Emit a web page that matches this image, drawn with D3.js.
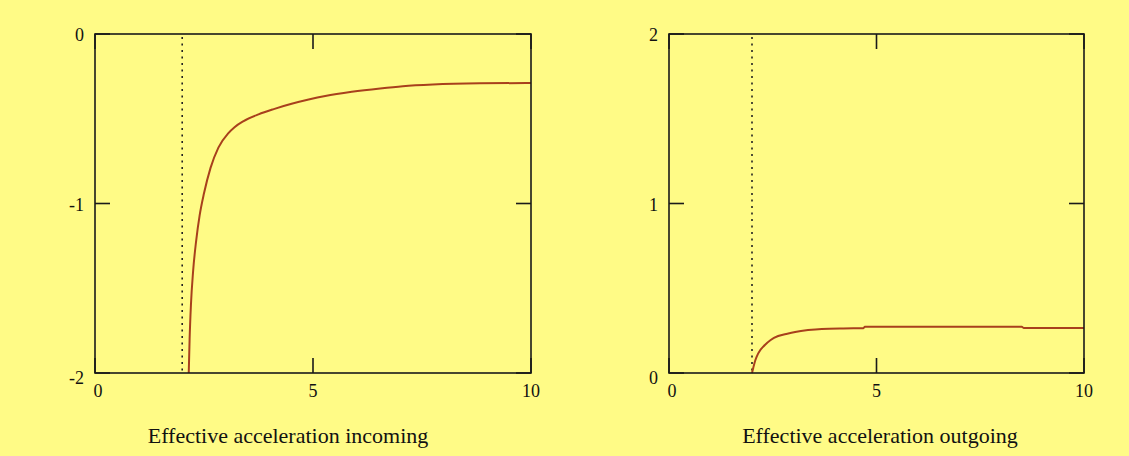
<!DOCTYPE html>
<html>
<head>
<meta charset="utf-8">
<script src="https://cdn.jsdelivr.net/npm/d3@7"></script>
<style>
  html, body { margin: 0; padding: 0; background: #fffb86; }
  svg { display: block; }
  text { font-family: "Liberation Serif", "Times New Roman", serif; fill: #111; }
</style>
</head>
<body>
<svg id="chart" width="1129" height="456"></svg>
<script>
// Incoming curve (left panel)
var xIn = [2.15, 2.17, 2.20, 2.25, 2.32, 2.40, 2.50, 2.65, 2.83, 3.06, 3.20, 3.40, 3.75, 4.10, 4.51, 4.90, 5.28, 5.89, 6.54, 7.06, 7.75, 8.83, 10];
var yIn = [-2.0, -1.80, -1.60, -1.40, -1.22, -1.07, -0.94, -0.79, -0.67, -0.585, -0.55, -0.515, -0.474, -0.443, -0.412, -0.387, -0.366, -0.341, -0.321, -0.308, -0.298, -0.291, -0.289];

// Outgoing curve (right panel)
var xOut = [2.0, 2.03, 2.08, 2.15, 2.31, 2.45, 2.63, 2.85, 3.04, 3.35, 3.68, 4.2, 4.68, 4.72, 6.17, 8.5, 8.55, 10];
var yOut = [0.0, 0.03, 0.075, 0.116, 0.165, 0.195, 0.218, 0.232, 0.242, 0.253, 0.260, 0.263, 0.264, 0.273, 0.273, 0.273, 0.265, 0.265];

// Axis ticks
var xTicks = [0, 5, 10];
var yTicksIn = [-2, -1, 0];
var yTicksOut = [0, 1, 2];
var asymptote = 2;

var svg = d3.select("#chart");

var panels = [
  { left: 95, right: 531, xs: xIn, ys: yIn, yDomain: [-2, 0], yTicks: yTicksIn, title: "Effective acceleration incoming", cx: 288 },
  { left: 669, right: 1084, xs: xOut, ys: yOut, yDomain: [0, 2], yTicks: yTicksOut, title: "Effective acceleration outgoing", cx: 880 }
];

var plotTop = 34, plotBottom = 373, tickLen = 15;

panels.forEach(function (p) {
  var x = d3.scaleLinear().domain([0, 10]).range([p.left, p.right]);
  var y = d3.scaleLinear().domain(p.yDomain).range([plotBottom, plotTop]);
  var g = svg.append("g");

  // asymptote at x = 2
  g.append("line")
    .attr("x1", x(asymptote)).attr("x2", x(asymptote))
    .attr("y1", plotTop + 3).attr("y2", plotBottom)
    .attr("stroke", "#222")
    .attr("stroke-width", 1.6)
    .attr("stroke-dasharray", "2,4.5");

  // curve
  var pts = p.xs.map(function (d, i) { return [d, p.ys[i]]; });
  var line = d3.line()
    .x(function (d) { return x(d[0]); })
    .y(function (d) { return y(d[1]); })
    .curve(d3.curveMonotoneX);
  g.append("path")
    .datum(pts)
    .attr("d", line)
    .attr("fill", "none")
    .attr("stroke", "#a8401c")
    .attr("stroke-width", 2);

  // frame
  g.append("rect")
    .attr("x", p.left).attr("y", plotTop)
    .attr("width", p.right - p.left).attr("height", plotBottom - plotTop)
    .attr("fill", "none")
    .attr("stroke", "#1a1a1a")
    .attr("stroke-width", 1.6);

  // inward ticks on all four sides
  xTicks.forEach(function (t) {
    g.append("line").attr("x1", x(t)).attr("x2", x(t)).attr("y1", plotBottom).attr("y2", plotBottom - tickLen)
      .attr("stroke", "#1a1a1a").attr("stroke-width", 1.6);
    g.append("line").attr("x1", x(t)).attr("x2", x(t)).attr("y1", plotTop).attr("y2", plotTop + tickLen)
      .attr("stroke", "#1a1a1a").attr("stroke-width", 1.6);
  });
  p.yTicks.forEach(function (t) {
    g.append("line").attr("x1", p.left).attr("x2", p.left + tickLen).attr("y1", y(t)).attr("y2", y(t))
      .attr("stroke", "#1a1a1a").attr("stroke-width", 1.6);
    g.append("line").attr("x1", p.right).attr("x2", p.right - tickLen).attr("y1", y(t)).attr("y2", y(t))
      .attr("stroke", "#1a1a1a").attr("stroke-width", 1.6);
  });

  // tick labels
  g.selectAll(".xl").data(xTicks).enter().append("text")
    .attr("x", function (d) { return d === 0 ? x(d) + 3 : x(d); })
    .attr("y", 397)
    .attr("text-anchor", "middle")
    .attr("font-size", 18)
    .text(function (d) { return d; });

  g.selectAll(".yl").data(p.yTicks).enter().append("text")
    .attr("x", p.left - 11)
    .attr("y", function (d) { return y(d) + (d === p.yDomain[0] ? 11 : 7); })
    .attr("text-anchor", "end")
    .attr("font-size", 18)
    .text(function (d) { return d; });

  // caption
  g.append("text")
    .attr("x", p.cx)
    .attr("y", 443)
    .attr("text-anchor", "middle")
    .attr("font-size", 22)
    .text(p.title);
});
</script>
</body>
</html>
